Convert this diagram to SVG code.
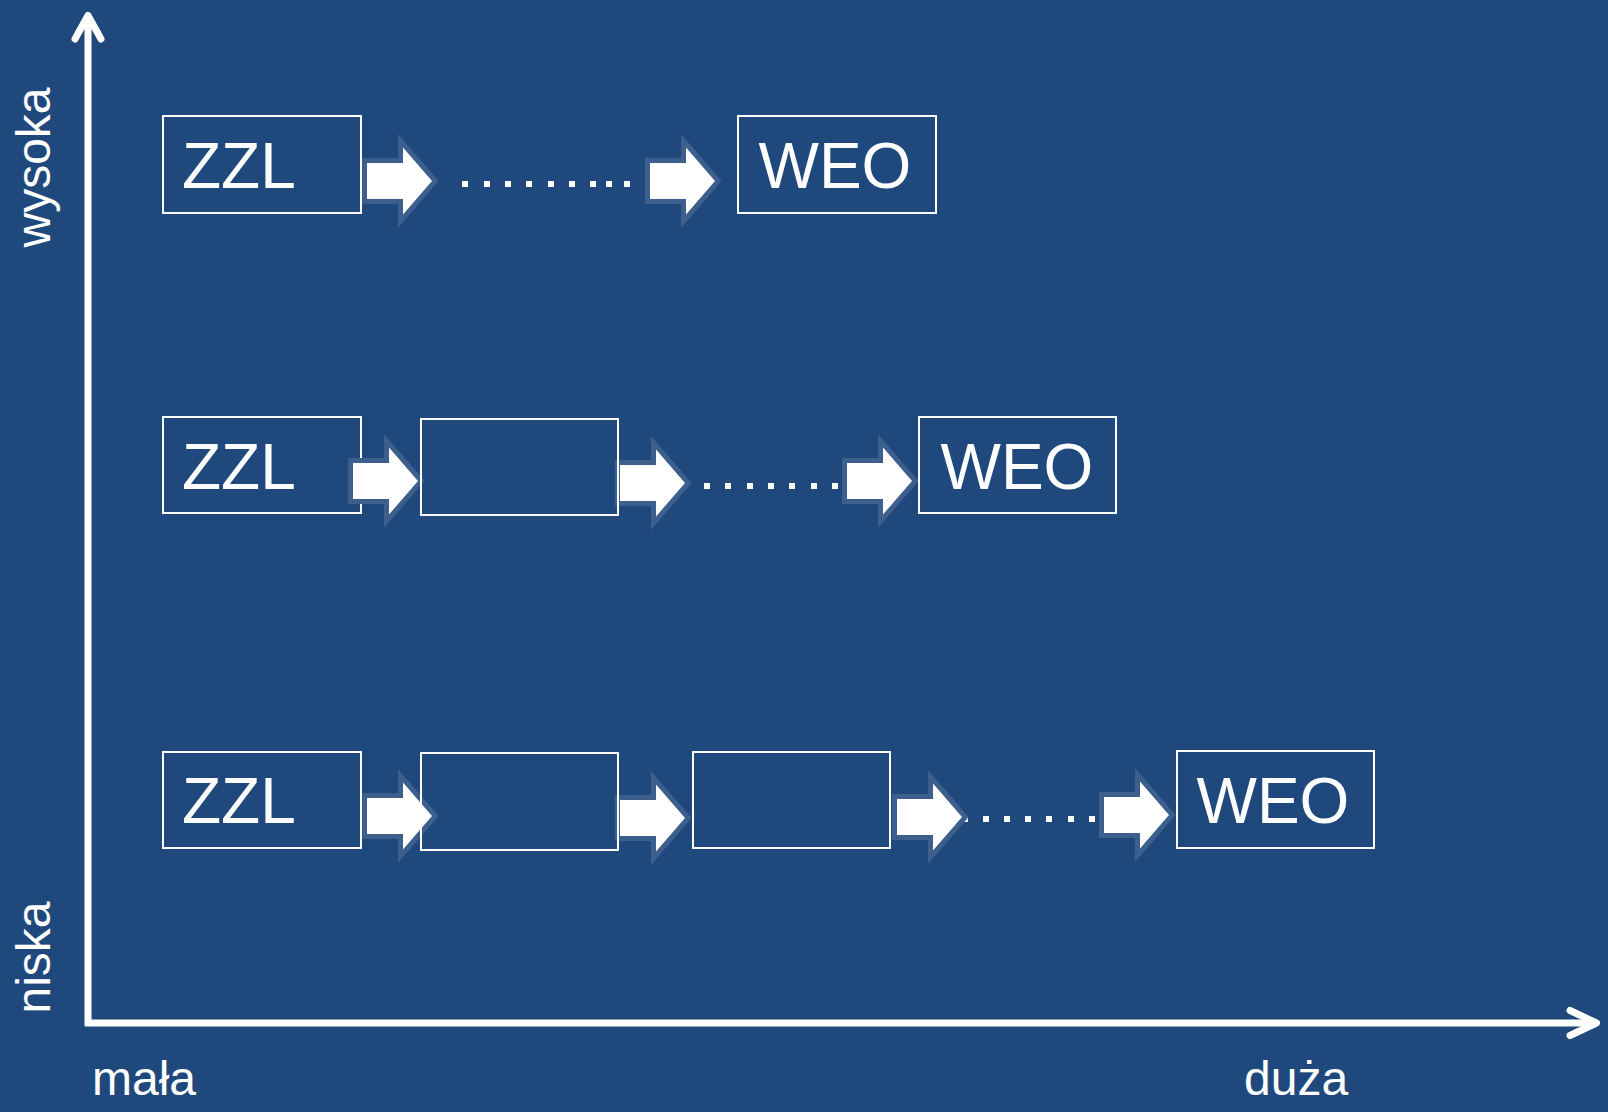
<svg xmlns="http://www.w3.org/2000/svg" xmlns:xlink="http://www.w3.org/1999/xlink" width="1608" height="1112" viewBox="0 0 1608 1112">
<style>
.box{fill:none;stroke:#ffffff;stroke-width:2}
.lbl{font-family:"Liberation Sans",Arial,sans-serif;font-size:64px;fill:#ffffff}
.ax{font-family:"Liberation Sans",Arial,sans-serif;font-size:48px;fill:#ffffff}
.blk{fill:#ffffff;stroke:#3C5F8E;stroke-width:10;paint-order:stroke;stroke-linejoin:miter;stroke-miterlimit:6}
.axis{fill:none;stroke:#ffffff;stroke-width:7;stroke-linecap:round;stroke-linejoin:round}
.dot{fill:#ffffff}
</style>
<defs>
<path id="blk" class="blk" d="M0,-18 H36 V-33.5 L65,0 L36,33.5 V18 H0 Z"/>
</defs>
<rect x="0" y="0" width="1608" height="1112" fill="#1F497D"/>
<g id="axes">
<line class="axis" x1="88" y1="1026" x2="88" y2="18" style="stroke-linecap:butt"/>
<polyline class="axis" points="75,39 88,15.5 101,39"/>
<line class="axis" x1="85" y1="1023" x2="1594" y2="1023" style="stroke-linecap:butt"/>
<polyline class="axis" points="1570,1010.5 1596.5,1023 1570,1035.5"/>
</g>
<g id="axis-labels">
<text class="ax" text-anchor="middle" transform="translate(50,167.5) rotate(-90)">wysoka</text>
<text class="ax" text-anchor="middle" transform="translate(50,957.5) rotate(-90)">niska</text>
<text class="ax" x="92" y="1095">mała</text>
<text class="ax" x="1244" y="1095">duża</text>
</g>
<g id="zzl-1"><rect class="box" x="163" y="116" width="198" height="97"/><text class="lbl" x="182" y="188">ZZL</text></g>
<g id="zzl-2"><rect class="box" x="163" y="417" width="198" height="96"/><text class="lbl" x="182" y="489">ZZL</text></g>
<g id="zzl-3"><rect class="box" x="163" y="752" width="198" height="96"/><text class="lbl" x="182" y="823">ZZL</text></g>
<g id="connectors">
<g id="dots">
<rect class="dot" x="462" y="181" width="6" height="6"/>
<rect class="dot" x="484" y="181" width="6" height="6"/>
<rect class="dot" x="505" y="181" width="6" height="6"/>
<rect class="dot" x="526" y="181" width="6" height="6"/>
<rect class="dot" x="548" y="181" width="6" height="6"/>
<rect class="dot" x="569" y="181" width="6" height="6"/>
<rect class="dot" x="590" y="181" width="6" height="6"/>
<rect class="dot" x="606" y="181" width="6" height="6"/>
<rect class="dot" x="624" y="181" width="6" height="6"/>
<rect class="dot" x="704" y="483" width="6" height="6"/>
<rect class="dot" x="725" y="483" width="6" height="6"/>
<rect class="dot" x="747" y="483" width="6" height="6"/>
<rect class="dot" x="768" y="483" width="6" height="6"/>
<rect class="dot" x="789" y="483" width="6" height="6"/>
<rect class="dot" x="811" y="483" width="6" height="6"/>
<rect class="dot" x="832" y="483" width="6" height="6"/>
<rect class="dot" x="962" y="816" width="6" height="6"/>
<rect class="dot" x="983" y="816" width="6" height="6"/>
<rect class="dot" x="1004" y="816" width="6" height="6"/>
<rect class="dot" x="1025" y="816" width="6" height="6"/>
<rect class="dot" x="1046" y="816" width="6" height="6"/>
<rect class="dot" x="1068" y="816" width="6" height="6"/>
<rect class="dot" x="1089" y="816" width="6" height="6"/>
</g>
<use xlink:href="#blk" x="367" y="181"/>
<use xlink:href="#blk" x="650" y="181"/>
<use xlink:href="#blk" x="353" y="481"/>
<use xlink:href="#blk" x="620" y="483"/>
<use xlink:href="#blk" x="847" y="481"/>
<use xlink:href="#blk" x="367" y="816"/>
<use xlink:href="#blk" x="620" y="818"/>
<use xlink:href="#blk" x="897" y="817"/>
<use xlink:href="#blk" x="1104" y="815"/>
</g>
<g id="weo-1"><rect class="box" x="738" y="116" width="198" height="97"/><text class="lbl" x="758.5" y="188">WEO</text></g>
<g id="step-2a"><rect class="box" x="421" y="419" width="197" height="96"/></g>
<g id="weo-2"><rect class="box" x="919" y="417" width="197" height="96"/><text class="lbl" x="940.5" y="489">WEO</text></g>
<g id="step-3a"><rect class="box" x="421" y="753" width="197" height="97"/></g>
<g id="step-3b"><rect class="box" x="693" y="752" width="197" height="96"/></g>
<g id="weo-3"><rect class="box" x="1177" y="751" width="197" height="97"/><text class="lbl" x="1196.5" y="823">WEO</text></g>
</svg>
